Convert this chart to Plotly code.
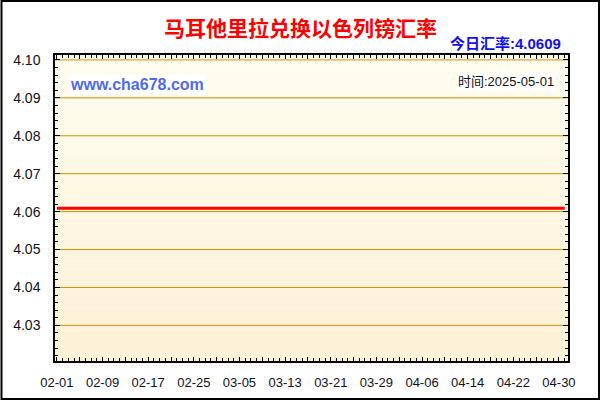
import pandas as pd
import plotly.graph_objects as go

# daily rate, flat over the whole period
dates = ["2025-02-01", "2025-02-09", "2025-02-17", "2025-02-25", "2025-03-05",
         "2025-03-13", "2025-03-21", "2025-03-29", "2025-04-06", "2025-04-14",
         "2025-04-22", "2025-04-30", "2025-05-01"]
rates = [4.0609, 4.0609, 4.0609, 4.0609, 4.0609, 4.0609, 4.0609,
         4.0609, 4.0609, 4.0609, 4.0609, 4.0609, 4.0609]

# x ticks every 4 days, label every 8
x_ticks = pd.date_range("2025-02-01", "2025-04-30", freq="4D")
x_labels = ["02-01", "", "02-09", "", "02-17", "", "02-25", "", "03-05", "",
            "03-13", "", "03-21", "", "03-29", "", "04-06", "", "04-14", "",
            "04-22", "", "04-30"]
y_ticks = [4.03, 4.04, 4.05, 4.06, 4.07, 4.08, 4.09, 4.10]
y_labels = ["4.03", "4.04", "4.05", "4.06", "4.07", "4.08", "4.09", "4.10"]

title = "马耳他里拉兑换以色列镑汇率"
today = "今日汇率:4.0609"
stamp = "时间:2025-05-01"
site = "www.cha678.com"

XR = ["2025-01-31 16:00", "2025-05-01 14:00"]
YR = [4.0206, 4.1013]
DAY = 86400000

fig = go.Figure()
fig.add_trace(go.Scatter(x=dates, y=rates, mode="lines",
                         line=dict(color="#FF0000", width=3), hoverinfo="x+y"))

# soft vertical gradient for the plot background
top = (255, 253, 240)
bot = (253, 241, 214)
n = 40
for i in range(n):
    t = i / (n - 1)
    c = tuple(int(round(top[k] + (bot[k] - top[k]) * t)) for k in range(3))
    fig.add_shape(type="rect", xref="paper", yref="paper", layer="below",
                  x0=0, x1=1, y0=1 - (i + 1) / n, y1=1 - i / n,
                  fillcolor="rgb(%d,%d,%d)" % c, line_width=0)

# golden grid lines at each labelled level
for v in y_ticks:
    fig.add_shape(type="line", xref="paper", yref="y", layer="below",
                  x0=0, x1=1, y0=v, y1=v, line=dict(color="#C69500", width=1))

# frame round the whole picture
fig.add_shape(type="rect", xref="paper", yref="paper",
              x0=-0.1043, x1=1.0604, y0=-0.1242, y1=1.1765,
              line=dict(color="black", width=2))

tickfont = dict(family="Liberation Sans, Arial", size=13, color="#111122")

fig.update_layout(
    width=600, height=400, autosize=False,
    margin=dict(l=55, r=32, t=55, b=39),
    paper_bgcolor="white", plot_bgcolor="rgba(0,0,0,0)",
    showlegend=False,
    xaxis=dict(type="date", range=XR, tickmode="array", tickvals=x_ticks,
               ticktext=x_labels, ticks="inside", ticklen=4, tickcolor="black",
               mirror="allticks", showline=True, linecolor="black", linewidth=1.5,
               showgrid=False, zeroline=False, tickfont=tickfont,
               ticklabelstandoff=9, automargin=False,
               minor=dict(tickmode="linear", tick0="2025-02-01", dtick=DAY,
                          ticks="inside", ticklen=3, tickcolor="black")),
    yaxis=dict(range=YR, tickmode="array", tickvals=y_ticks, ticktext=y_labels,
               ticks="inside", ticklen=5, tickcolor="black",
               mirror="allticks", showline=True, linecolor="black", linewidth=1.5,
               showgrid=False, zeroline=False,
               tickfont=dict(family="Liberation Sans, Arial", size=14, color="#111122"),
               ticklabelstandoff=10, automargin=False,
               minor=dict(tickmode="linear", tick0=4.10, dtick=0.002,
                          ticks="inside", ticklen=3, tickcolor="black")),
    # second set of axes only to put the ticks across the outside too
    xaxis2=dict(type="date", range=XR, overlaying="x", anchor="y", side="bottom",
                tickmode="array", tickvals=x_ticks, ticks="outside", ticklen=4,
                tickcolor="black", showticklabels=False, showgrid=False,
                showline=False, zeroline=False, automargin=False,
                minor=dict(tickmode="linear", tick0="2025-02-01", dtick=DAY,
                           ticks="outside", ticklen=2, tickcolor="black")),
    yaxis2=dict(range=YR, overlaying="y", anchor="x", side="left",
                tickmode="array", tickvals=y_ticks, ticks="outside", ticklen=5,
                tickcolor="black", showticklabels=False, showgrid=False,
                showline=False, zeroline=False, automargin=False,
                minor=dict(tickmode="linear", tick0=4.10, dtick=0.002,
                           ticks="outside", ticklen=3, tickcolor="black")),
)

fig.add_annotation(text="<b>%s</b>" % title, xref="paper", yref="paper",
                   x=0.4776, y=1.0915, xanchor="center", yanchor="middle",
                   showarrow=False,
                   font=dict(family="Noto Sans CJK SC", size=21, color="#FF0000"))
fig.add_annotation(text="<b>%s</b>" % today, xref="paper", yref="paper",
                   x=0.990, y=1.039, xanchor="right", yanchor="middle",
                   showarrow=False,
                   font=dict(family="Liberation Sans, Noto Sans CJK SC", size=15,
                             color="#1010F0"))
fig.add_annotation(text="<b>%s</b>" % site, xref="paper", yref="paper",
                   x=0.0253, y=0.905, xanchor="left", yanchor="middle",
                   showarrow=False, bgcolor="white", borderpad=1,
                   font=dict(family="Liberation Sans, Arial", size=16, color="#4F6BED"))
fig.add_annotation(text=stamp, xref="paper", yref="paper",
                   x=0.9766, y=0.915, xanchor="right", yanchor="middle",
                   showarrow=False, bgcolor="white", borderpad=1,
                   font=dict(family="Liberation Sans, Noto Sans CJK SC", size=13,
                             color="#111111"))

# page body has a default 8px margin, drop it so the 600x400 figure fits the window
fig.write_html("out.html", config={"displayModeBar": False},
               post_script="document.body.style.margin='0';document.body.style.overflow='hidden';")
